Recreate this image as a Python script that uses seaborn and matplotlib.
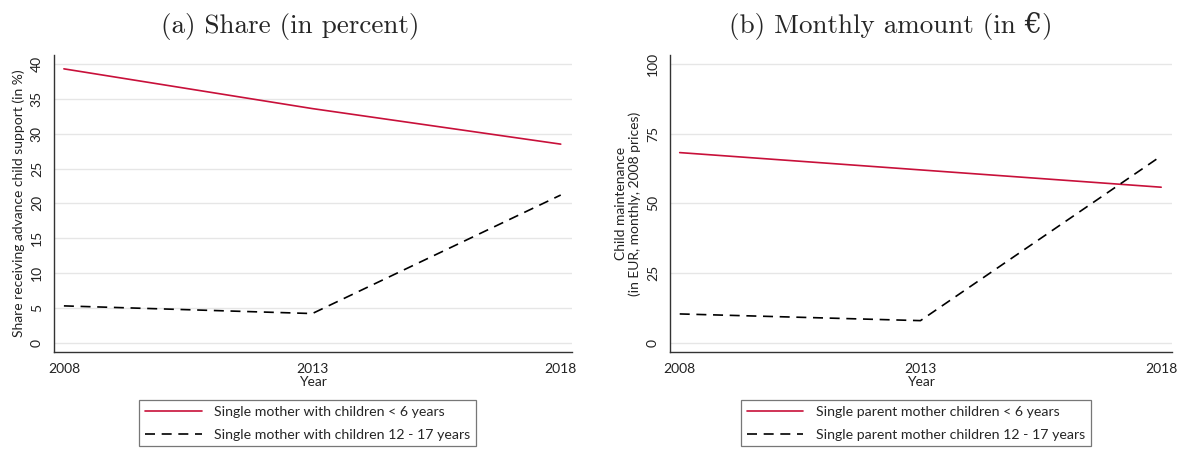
import pandas as pd
import matplotlib.pyplot as plt
import seaborn as sns

# values
years = [2008, 2013, 2018]
share_young = [39.3, 33.6, 28.5]
share_teen = [5.3, 4.2, 21.2]
amount_young = [68.2, 62.0, 55.8]
amount_teen = [10.4, 8.0, 67.0]

labels_a = ['Single mother with children < 6 years',
            'Single mother with children 12 - 17 years']
labels_b = ['Single parent mother children < 6 years',
            'Single parent mother children 12 - 17 years']

df_a = pd.DataFrame({'Year': years * 2,
                     'value': share_young + share_teen,
                     'group': [labels_a[0]] * 3 + [labels_a[1]] * 3})
df_b = pd.DataFrame({'Year': years * 2,
                     'value': amount_young + amount_teen,
                     'group': [labels_b[0]] * 3 + [labels_b[1]] * 3})

sns.set_style('white')
plt.rcParams['font.family'] = ['Lato', 'DejaVu Sans']

red = '#c8103a'
fig = plt.figure(figsize=(11.86, 4.5), dpi=100)
ax1 = fig.add_axes([0.0455, 0.218, 0.4365, 0.66])
ax2 = fig.add_axes([0.565, 0.218, 0.423, 0.66])

panels = [
    (ax1, df_a, labels_a, [0, 5, 10, 15, 20, 25, 30, 35, 40], (-1.3, 41.3),
     'Share receiving advance child support (in %)', '(a) Share (in percent)', 0.49, 0.457),
    (ax2, df_b, labels_b, [0, 25, 50, 75, 100], (-3.2, 103.2),
     'Child maintenance\n(in EUR, monthly, 2008 prices)', '(b) Monthly amount (in €)', 0.49, 0.44),
]

for ax, df, labels, yticks, ylim, ylab, title, lx, tx in panels:
    sns.lineplot(data=df, x='Year', y='value', hue='group', style='group',
                 palette={labels[0]: red, labels[1]: 'black'},
                 dashes={labels[0]: '', labels[1]: (6, 4)},
                 linewidth=1.2, ax=ax, legend=False)
    ax.set_xlim(2007.8, 2018.22)
    ax.set_ylim(*ylim)
    ax.set_xticks(years)
    ax.set_yticks(yticks)
    ax.set_yticklabels([str(t) for t in yticks], rotation=90, va='center')
    ax.grid(axis='y', color='#e6e6e6', linewidth=1)
    ax.set_axisbelow(True)
    for s in ['top', 'right']:
        ax.spines[s].set_visible(False)
    for s in ['left', 'bottom']:
        ax.spines[s].set_color('#333333')
        ax.spines[s].set_linewidth(1)
    ax.tick_params(axis='both', direction='out', length=5, width=1, color='#777777',
                   labelsize=10, labelcolor='#222222', pad=3)
    ax.set_xlabel('Year', fontsize=10, labelpad=1, color='#222222')
    ax.set_ylabel(ylab, fontsize=10, labelpad=4, color='#222222')
    ax.set_title(title, fontsize=19.5, family=['cmr10', 'DejaVu Serif'], pad=16, x=tx)
    handles = ax.get_lines()[:2]
    leg = ax.legend(handles, labels, loc='upper center', bbox_to_anchor=(lx, -0.138),
                    frameon=True, fancybox=False, fontsize=10.2, handlelength=4.0,
                    borderpad=0.42, labelspacing=0.75, handletextpad=0.9)
    leg.get_frame().set_edgecolor('#555555')
    leg.get_frame().set_linewidth(0.9)

fig.savefig('out.png', dpi=100)
